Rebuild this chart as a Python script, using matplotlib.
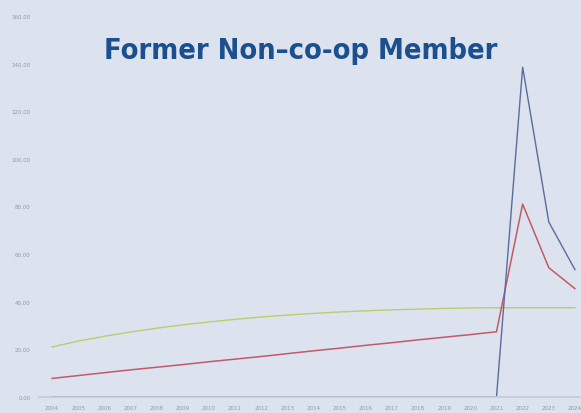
import matplotlib
matplotlib.use("Agg")
import matplotlib.pyplot as plt
import numpy as np

years = [str(y) for y in range(2004, 2025)]
blue_vals = [0]*18 + [138.5, 73.5, 53.5]
red_vals = [7.8, 9.0, 10.2, 11.4, 12.5, 13.6, 14.8, 15.9, 17.0, 18.2, 19.4, 20.5, 21.7, 22.8, 24.0, 25.1, 26.2, 27.4, 81.0, 54.3, 45.5]
green_vals = [21.0, 23.5, 25.5, 27.3, 28.9, 30.3, 31.5, 32.6, 33.6, 34.4, 35.1, 35.7, 36.2, 36.6, 36.9, 37.2, 37.4, 37.5, 37.5, 37.5, 37.5]
yticks = [0, 20, 40, 60, 80, 100, 120, 140, 160]
title = "Former Non\u2013co-op Member"

bg = "#dde3ee"
fig = plt.figure(figsize=(5.81, 4.14), dpi=100, facecolor=bg)
ax = fig.add_axes([39/581, 16/414, 549/581, 381/414], facecolor=bg)
x = np.arange(len(years))
ax.plot(x, green_vals, color="#bccb6e", lw=1.0)
ax.plot(x, red_vals, color="#c25a66", lw=1.1)
ax.plot(x, blue_vals, color="#5a6c9c", lw=1.0)
ax.set_xlim(-0.5, len(years) - 0.5)
ax.set_ylim(0, 160)
ax.set_yticks(yticks)
ax.set_yticklabels([f"{v:.2f}" for v in yticks], fontsize=4, color="#9096a6")
ax.set_xticks(x)
ax.set_xticklabels(years, fontsize=4, color="#9096a6")
ax.tick_params(length=0, pad=6)
for s in ["top", "right", "left"]:
    ax.spines[s].set_visible(False)
ax.spines["bottom"].set_color("#c4cad6")
ax.spines["bottom"].set_linewidth(1.2)
fig.text(301/581, 1 - 51/414, title, ha="center", va="center",
         fontsize=20.8, fontweight="bold", fontstretch="condensed", color="#1b4f8e",
         family=["DejaVu Sans"])
fig.savefig("out.png", dpi=100, facecolor=bg)
